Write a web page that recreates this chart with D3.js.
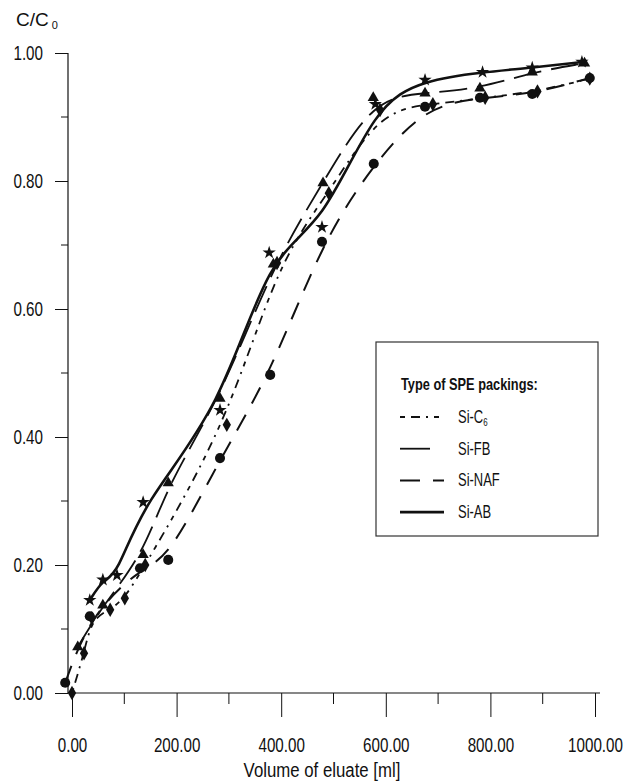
<!DOCTYPE html>
<html>
<head>
<meta charset="utf-8">
<script src="https://cdn.jsdelivr.net/npm/d3@7"></script>
<style>
  body { margin: 0; background: #fff; }
  text { font-family: "Liberation Sans", Arial, sans-serif; fill: #111; }
</style>
</head>
<body>
<div id="chart"></div>
<script>
// data
const seriesNames = ["Si-C6", "Si-FB", "Si-NAF", "Si-AB"];

const volC6  = [0, 23, 38, 73, 101, 140, 296, 392, 491, 589, 690, 790, 890, 990];
const valC6  = [0.00, 0.062, 0.117, 0.13, 0.148, 0.20, 0.419, 0.672, 0.781, 0.911, 0.92, 0.93, 0.94, 0.96];

const volFB  = [11, 59, 136, 184, 283, 385, 480, 576, 675, 780, 880, 980];
const valFB  = [0.072, 0.137, 0.216, 0.328, 0.46, 0.67, 0.797, 0.93, 0.937, 0.945, 0.97, 0.984];

const volNAF = [-13, 34, 130, 184, 283, 379, 478, 577, 675, 780, 880, 990];
const valNAF = [0.016, 0.12, 0.195, 0.208, 0.367, 0.497, 0.705, 0.827, 0.916, 0.93, 0.936, 0.961];

const volAB  = [34, 59, 86, 136, 283, 377, 478, 580, 675, 785, 880, 975];
const valAB  = [0.145, 0.177, 0.184, 0.298, 0.442, 0.688, 0.728, 0.92, 0.958, 0.97, 0.977, 0.986];

const xTicks = [0, 200, 400, 600, 800, 1000];
const yTicks = [0, 0.2, 0.4, 0.6, 0.8, 1.0];

const width = 623, height = 782;
const svg = d3.select("#chart").append("svg")
    .attr("width", width)
    .attr("height", height);

// no narrow font installed, so squeeze the text sideways
function squeeze(sel, k) {
  sel.each(function () {
    const t = d3.select(this);
    const x0 = +t.attr("x") || 0;
    t.attr("x", x0 / k).attr("transform", `scale(${k},1)`);
  });
}

const x = d3.scaleLinear().domain([0, 1000]).range([72, 595]);
const y = d3.scaleLinear().domain([0, 1]).range([693, 53]);
const xLeft = x.invert(68);

// axes
const xAxis = d3.axisBottom(x)
    .tickValues(xTicks)
    .tickFormat(d3.format(".2f"))
    .tickSize(24)
    .tickPadding(21);
const gx = svg.append("g").attr("transform", `translate(0,${y(0)})`).call(xAxis);
gx.select(".domain").remove();
gx.selectAll("text").style("font-size", "20px").call(squeeze, 0.76);
svg.append("line")
    .attr("x1", x(xLeft)).attr("x2", 600)
    .attr("y1", y(0)).attr("y2", y(0))
    .attr("stroke", "#111").attr("stroke-width", 1.2);
svg.append("g").selectAll("line")
    .data(d3.range(100, 1000, 200))
    .join("line")
    .attr("x1", d => x(d)).attr("x2", d => x(d))
    .attr("y1", y(0)).attr("y2", y(0) + 11)
    .attr("stroke", "#111");

const yAxis = d3.axisLeft(y)
    .tickValues(yTicks)
    .tickFormat(d3.format(".2f"))
    .tickSize(13)
    .tickPadding(12);
const gy = svg.append("g").attr("transform", `translate(${x(xLeft)},0)`).call(yAxis);
gy.select(".domain").remove();
gy.selectAll("text").style("font-size", "20px").call(squeeze, 0.76);
svg.append("line")
    .attr("x1", x(xLeft)).attr("x2", x(xLeft))
    .attr("y1", y(1)).attr("y2", y(0))
    .attr("stroke", "#111").attr("stroke-width", 1.2);
svg.append("g").selectAll("line")
    .data(d3.range(0.1, 1, 0.2))
    .join("line")
    .attr("x1", x(xLeft) - 7).attr("x2", x(xLeft))
    .attr("y1", d => y(d)).attr("y2", d => y(d))
    .attr("stroke", "#111");
svg.selectAll(".tick line").attr("stroke", "#111");

// axis titles
svg.append("text")
    .attr("x", 322).attr("y", 777)
    .attr("text-anchor", "middle")
    .style("font-size", "21px")
    .text("Volume of eluate [ml]")
    .call(squeeze, 0.8);
const yt = svg.append("text").attr("x", 16).attr("y", 26).style("font-size", "19px");
yt.append("tspan").text("C/C");
yt.append("tspan").attr("dx", 3).attr("dy", 3).style("font-size", "11px").text("0");

// series
const series = [
  { name: seriesNames[0], vol: volC6,  val: valC6,  dash: "5,6,9,6,2,6", width: 1.8, sym: d3.symbolDiamond, size: 60 },
  { name: seriesNames[1], vol: volFB,  val: valFB,  dash: "28,10",       width: 1.8, sym: d3.symbolTriangle, size: 55 },
  { name: seriesNames[2], vol: volNAF, val: valNAF, dash: "18,13",       width: 2,   sym: d3.symbolCircle, size: 80 },
  { name: seriesNames[3], vol: volAB,  val: valAB,  dash: null,          width: 2.6, sym: d3.symbolStar, size: 55 }
];

const line = d3.line()
    .x(d => x(d[0]))
    .y(d => y(d[1]))
    .curve(d3.curveBasis);

series.forEach(s => {
  const pts = s.vol.map((v, i) => [v, s.val[i]]);
  svg.append("path")
      .datum(pts)
      .attr("d", line)
      .attr("fill", "none")
      .attr("stroke", "#111")
      .attr("stroke-width", s.width)
      .attr("stroke-dasharray", s.dash);
  svg.append("g").selectAll("path")
      .data(pts)
      .join("path")
      .attr("transform", d => `translate(${x(d[0])},${y(d[1])})`)
      .attr("d", d3.symbol().type(s.sym).size(s.size))
      .attr("fill", "#111");
});

// legend
const lg = svg.append("g");
lg.append("rect")
    .attr("x", 376).attr("y", 342)
    .attr("width", 222).attr("height", 194)
    .attr("fill", "#fff")
    .attr("stroke", "#333").attr("stroke-width", 1.2);
lg.append("text")
    .attr("x", 401).attr("y", 390)
    .style("font-size", "16px").style("font-weight", "bold")
    .text("Type of SPE packings:")
    .call(squeeze, 0.8);
const legendDash = ["5,6,9,6,2,6", "30,20", "20,13", null];
series.forEach((s, i) => {
  const ly = 417 + i * 31.7;
  lg.append("line")
      .attr("x1", 400).attr("x2", 444)
      .attr("y1", ly).attr("y2", ly)
      .attr("stroke", "#111")
      .attr("stroke-width", s.width)
      .attr("stroke-dasharray", legendDash[i]);
  const t = lg.append("text").attr("x", 458).attr("y", ly + 6).style("font-size", "18px");
  if (s.name === "Si-C6") {
    t.append("tspan").text("Si-C");
    t.append("tspan").attr("dy", 3).style("font-size", "11px").text("6");
  } else {
    t.text(s.name);
  }
  t.call(squeeze, 0.72);
});
</script>
</body>
</html>
